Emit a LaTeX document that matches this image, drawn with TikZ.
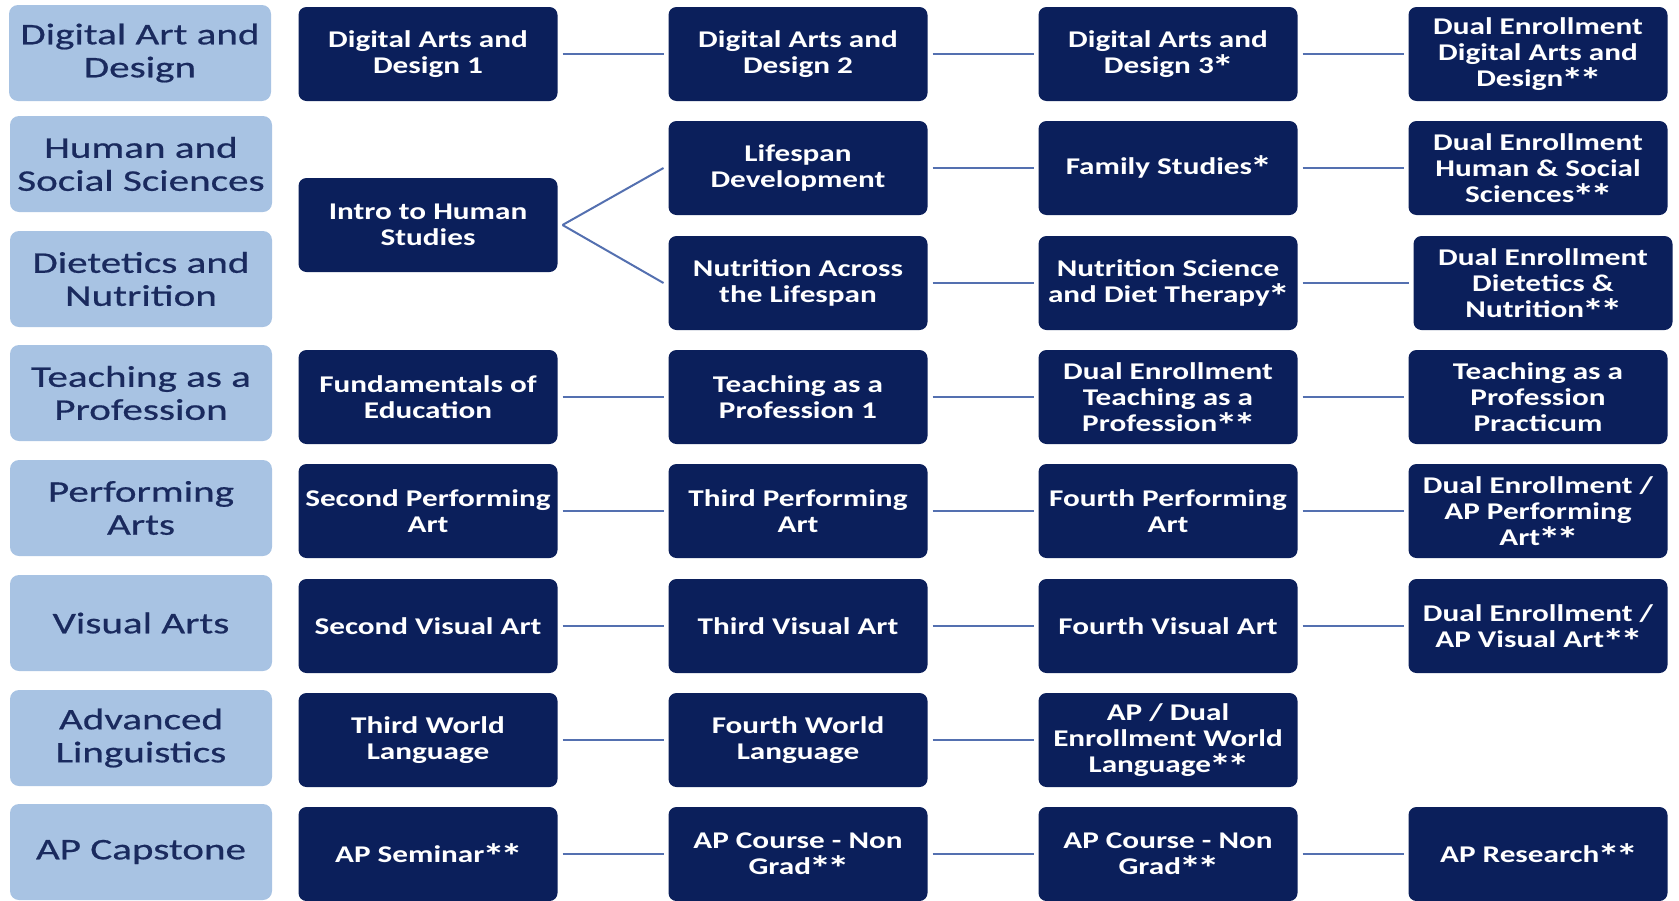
\documentclass[tikz,border=0pt]{standalone}
\usepackage{fontspec}
\setmainfont{Carlito}
\newfontfamily\boxfont[FakeStretch=1.3]{Carlito}
\newfontfamily\labelfont[FakeStretch=1.37, FakeBold=0.6]{Carlito}
\definecolor{navy}{HTML}{0B1F5B}
\definecolor{paleblue}{HTML}{A8C3E3}
\definecolor{labelink}{HTML}{1A2A5E}
\definecolor{linkblue}{HTML}{5470B0}
\newcommand{\onestar}{\kern-0.09em\smash{\raisebox{-0.24em}{\scalebox{1.45}{*}}}\kern-0.09em}
\tikzset{
  labelbox/.style={rectangle, rounded corners=9pt, fill=paleblue, text=labelink,
    minimum width=262pt, minimum height=96pt, inner sep=0pt, align=center,
    font=\labelfont\fontsize{30}{33}\selectfont},
  coursebox/.style={rectangle, rounded corners=8pt, fill=navy, text=white,
    minimum width=259pt, minimum height=94pt, inner sep=0pt, outer sep=5pt, align=center,
    font=\boxfont\bfseries\fontsize{24}{26}\selectfont},
  link/.style={draw=linkblue, line width=2pt}
}
\begin{document}
\begin{tikzpicture}[x=1pt, y=-1pt]
                \useasboundingbox (0, 0) rectangle (1679, 900);
                \clip (0, 0) rectangle (1679, 900);

                \node[labelbox] (lab-dig) at (140, 53) {Digital Art and\\Design};
                \node[labelbox] (lab-hum) at (141, 164) {Human and\\Social Sciences};
                \node[labelbox] (lab-diet) at (141, 279) {Dietetics and\\Nutrition};
                \node[labelbox] (lab-teach) at (141, 393) {Teaching as a\\Profession};
                \node[labelbox] (lab-perf) at (141, 508) {Performing\\Arts};
                \node[labelbox] (lab-vis) at (141, 623) {Visual Arts};
                \node[labelbox] (lab-ling) at (141, 738) {Advanced\\Linguistics};
                \node[labelbox] (lab-cap) at (141, 852) {AP Capstone};

                \node[coursebox] (dig1) at (428, 54) {Digital Arts and\\Design 1};
                \node[coursebox] (dig2) at (798, 54) {Digital Arts and\\Design 2};
                \node[coursebox] (dig3) at (1168, 54) {Digital Arts and\\Design 3\onestar};
                \node[coursebox] (dig4) at (1538, 54) {Dual Enrollment\\Digital Arts and\\Design\onestar\onestar};

                \node[coursebox] (intro) at (428, 225) {Intro to Human\\Studies};
                \node[coursebox] (life) at (798, 168) {Lifespan\\Development};
                \node[coursebox] (fam) at (1168, 168) {Family Studies\onestar};
                \node[coursebox] (hum4) at (1538, 168) {Dual Enrollment\\Human \& Social\\Sciences\onestar\onestar};

                \node[coursebox] (nutr) at (798, 283) {Nutrition Across\\the Lifespan};
                \node[coursebox] (diet) at (1168, 283) {Nutrition Science\\and Diet Therapy\onestar};
                \node[coursebox] (diet4) at (1543, 283) {Dual Enrollment\\Dietetics \&\\Nutrition\onestar\onestar};

                \node[coursebox] (teach1) at (428, 397) {Fundamentals of\\Education};
                \node[coursebox] (teach2) at (798, 397) {Teaching as a\\Profession 1};
                \node[coursebox] (teach3) at (1168, 397) {Dual Enrollment\\Teaching as a\\Profession\onestar\onestar};
                \node[coursebox] (teach4) at (1538, 397) {Teaching as a\\Profession\\Practicum};

                \node[coursebox] (perf1) at (428, 511) {Second Performing\\Art};
                \node[coursebox] (perf2) at (798, 511) {Third Performing\\Art};
                \node[coursebox] (perf3) at (1168, 511) {Fourth Performing\\Art};
                \node[coursebox] (perf4) at (1538, 511) {Dual Enrollment /\\AP Performing\\Art\onestar\onestar};

                \node[coursebox] (vis1) at (428, 626) {Second Visual Art};
                \node[coursebox] (vis2) at (798, 626) {Third Visual Art};
                \node[coursebox] (vis3) at (1168, 626) {Fourth Visual Art};
                \node[coursebox] (vis4) at (1538, 626) {Dual Enrollment /\\AP Visual Art\onestar\onestar};

                \node[coursebox] (ling1) at (428, 740) {Third World\\Language};
                \node[coursebox] (ling2) at (798, 740) {Fourth World\\Language};
                \node[coursebox] (ling3) at (1168, 740) {AP / Dual\\Enrollment World\\Language\onestar\onestar};

                \node[coursebox] (cap1) at (428, 854) {AP Seminar\onestar\onestar};
                \node[coursebox] (cap2) at (798, 854) {AP Course - Non\\Grad\onestar\onestar};
                \node[coursebox] (cap3) at (1168, 854) {AP Course - Non\\Grad\onestar\onestar};
                \node[coursebox] (cap4) at (1538, 854) {AP Research\onestar\onestar};

                % links between the years
                \draw[link] (dig1) -- (dig2);
                \draw[link] (dig2) -- (dig3);
                \draw[link] (dig3) -- (dig4);
                \draw[link] (intro.east) -- (life.west);
                \draw[link] (intro.east) -- (nutr.west);
                \draw[link] (life) -- (fam);
                \draw[link] (fam) -- (hum4);
                \draw[link] (nutr) -- (diet);
                \draw[link] (diet) -- (diet4);
                \draw[link] (teach1) -- (teach2);
                \draw[link] (teach2) -- (teach3);
                \draw[link] (teach3) -- (teach4);
                \draw[link] (perf1) -- (perf2);
                \draw[link] (perf2) -- (perf3);
                \draw[link] (perf3) -- (perf4);
                \draw[link] (vis1) -- (vis2);
                \draw[link] (vis2) -- (vis3);
                \draw[link] (vis3) -- (vis4);
                \draw[link] (ling1) -- (ling2);
                \draw[link] (ling2) -- (ling3);
                \draw[link] (cap1) -- (cap2);
                \draw[link] (cap2) -- (cap3);
                \draw[link] (cap3) -- (cap4);
\end{tikzpicture}
\end{document}
